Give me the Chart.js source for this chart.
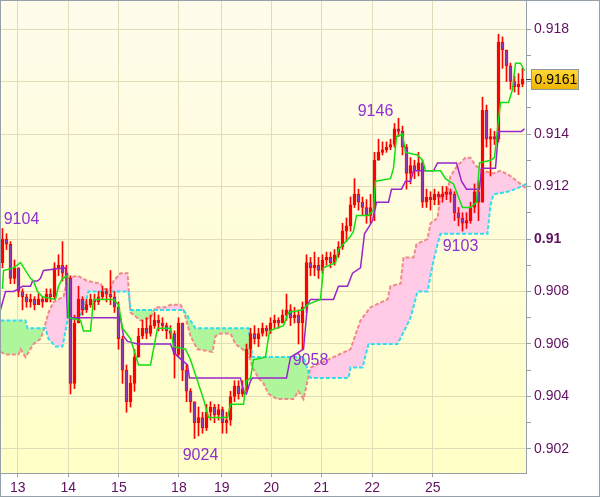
<!DOCTYPE html>
<html>
<head>
<meta charset="utf-8">
<script src="https://cdn.jsdelivr.net/npm/chart.js@4/dist/chart.umd.min.js"></script>
<style>
  body { margin: 0; background: #fff; }
  #wrap { width: 600px; height: 497px; }
</style>
</head>
<body>
<div id="wrap"><canvas id="myChart" width="600" height="497"></canvas></div>
<script>
// prices in pips (9104 -> 0.9104), one candle per bar index
const firstOpen = 9091
const closes = [
  9100, 9098, 9085, 9089, 9080, 9078, 9076, 9077, 9075, 9077,
  9076, 9079, 9078, 9089, 9090, 9087, 9085, 9045, 9068, 9077,
  9073, 9075, 9077, 9076, 9078, 9080, 9079, 9078, 9074, 9062,
  9050, 9038, 9045, 9055, 9063, 9066, 9064, 9067, 9069, 9068,
  9067, 9065, 9064, 9056, 9068, 9050, 9042, 9038, 9030, 9032,
  9028, 9034, 9036, 9033, 9035, 9030, 9031, 9040, 9044, 9041,
  9043, 9058, 9064, 9062, 9064, 9066, 9065, 9068, 9069, 9068,
  9071, 9073, 9070, 9071, 9068, 9074, 9091, 9089, 9090, 9088,
  9092, 9093, 9091, 9094, 9097, 9103, 9105, 9113, 9117, 9114,
  9112, 9109, 9112, 9130, 9133, 9134, 9135, 9136, 9142, 9141,
  9135, 9125, 9128, 9126, 9129, 9114, 9116, 9115, 9117, 9116,
  9117, 9118, 9117, 9110, 9108, 9106, 9107, 9112, 9118, 9114,
  9149, 9138, 9139, 9138, 9175, 9172, 9166, 9160, 9158, 9159,
  9161
]
const highs = [
  9104, 9102, 9099, 9092, 9089, 9081, 9079, 9079, 9078, 9079,
  9078, 9081, 9081, 9091, 9094, 9099, 9090, 9086, 9071, 9082,
  9078, 9077, 9079, 9079, 9080, 9082, 9081, 9088, 9080, 9076,
  9063, 9052, 9048, 9058, 9066, 9069, 9070, 9071, 9072, 9071,
  9070, 9068, 9067, 9065, 9070, 9068, 9052, 9043, 9038, 9036,
  9034, 9037, 9038, 9037, 9037, 9036, 9034, 9042, 9046, 9046,
  9046, 9060, 9066, 9067, 9066, 9068, 9067, 9070, 9071, 9070,
  9073, 9079, 9075, 9074, 9073, 9076, 9094, 9093, 9095, 9093,
  9094, 9095, 9095, 9096, 9099, 9106, 9108, 9116, 9123, 9119,
  9116, 9115, 9117, 9133, 9138, 9137, 9137, 9138, 9144, 9146,
  9143, 9136, 9131, 9130, 9133, 9130, 9119, 9118, 9119, 9118,
  9120, 9120, 9119, 9118, 9112, 9110, 9110, 9114, 9121, 9122,
  9154, 9151, 9142, 9141, 9178, 9177, 9172, 9167, 9162, 9163,
  9165
]
const lows = [
  9089, 9096, 9083, 9083, 9078, 9073, 9074, 9074, 9073, 9075,
  9074, 9076, 9076, 9077, 9086, 9084, 9082, 9041, 9043, 9068,
  9071, 9072, 9074, 9073, 9075, 9077, 9076, 9075, 9072, 9058,
  9045, 9034, 9036, 9042, 9055, 9062, 9062, 9063, 9066, 9065,
  9065, 9062, 9062, 9047, 9055, 9046, 9038, 9034, 9024, 9025,
  9026, 9027, 9031, 9030, 9031, 9026, 9026, 9029, 9038, 9039,
  9040, 9042, 9055, 9060, 9059, 9063, 9063, 9064, 9066, 9066,
  9068, 9069, 9067, 9068, 9060, 9058, 9072, 9086, 9086, 9085,
  9087, 9090, 9089, 9090, 9093, 9096, 9099, 9103, 9112, 9111,
  9109, 9106, 9106, 9107, 9130, 9132, 9133, 9134, 9135, 9139,
  9132, 9119, 9121, 9123, 9124, 9112, 9112, 9111, 9113, 9113,
  9114, 9115, 9114, 9107, 9105, 9103, 9104, 9106, 9110, 9107,
  9114, 9135, 9124, 9136, 9137, 9165, 9160, 9157, 9156, 9155,
  9158
]

// ichimoku lines: [bar index, pips]
const tenkan = [
  [0, 9081], [0.25, 9088], [2.75, 9089], [4.5, 9091], [7, 9085], [7.75, 9084], [8.75, 9080],
  [10, 9078], [13.25, 9077], [14, 9082], [15, 9085], [16.25, 9086], [16.5, 9070], [19.5, 9069],
  [20.25, 9065], [22, 9065], [22.75, 9077], [27.75, 9077], [29, 9075], [30, 9066], [32, 9062],
  [33, 9057], [34, 9052], [37, 9052], [38.75, 9066], [42, 9066], [42.75, 9059], [45.75, 9058],
  [47, 9054], [50.25, 9039], [51.5, 9032], [56.25, 9032], [57, 9037], [60.25, 9037], [61, 9046],
  [62, 9047], [62.75, 9054], [65.75, 9055], [66.75, 9065], [70.25, 9067], [71.5, 9072], [75, 9073],
  [76.25, 9075], [79.5, 9077], [80.25, 9089], [83.25, 9091], [84, 9096], [87, 9101], [87.75, 9103],
  [88.5, 9109], [91.5, 9109], [92.75, 9111], [93.25, 9122], [97, 9123], [97.75, 9127], [98.5, 9139],
  [100, 9140], [100.75, 9133], [103.75, 9132], [105, 9130], [105.75, 9126], [109.5, 9126],
  [110.75, 9123], [112.75, 9121], [114, 9116], [115, 9112], [117, 9112], [118.5, 9114],
  [119.25, 9129], [122, 9130], [123, 9131], [123.75, 9142], [124.5, 9152], [126.5, 9152],
  [127.5, 9157], [128.25, 9167], [129.5, 9167], [130.5, 9164]
]
const kijun = [
  [-0.5, 9073], [0.75, 9080], [2.75, 9080], [4, 9081], [5, 9082], [7, 9082], [7.5, 9084],
  [8.75, 9084], [9.5, 9085], [10.25, 9088], [15.75, 9089], [16.25, 9070], [29.5, 9070],
  [30.25, 9063], [31.25, 9061], [33.75, 9060], [42, 9060], [42.75, 9057], [44, 9055],
  [45.5, 9053], [46.25, 9052], [46.75, 9047], [59.5, 9047], [60.25, 9042], [61, 9041],
  [62, 9046], [62.5, 9047], [71, 9047], [72, 9055], [75.25, 9058], [76.25, 9075], [77, 9077],
  [82.75, 9077], [84, 9082], [86.25, 9082], [87.5, 9087], [89.5, 9089], [90.5, 9102],
  [91.75, 9105], [92.5, 9107], [93.5, 9114], [96.5, 9114], [97.25, 9119], [99.75, 9119],
  [100.75, 9122], [102, 9122], [102.75, 9126], [107.75, 9126], [108.75, 9129], [113.5, 9129],
  [114.75, 9122], [116, 9119], [119.25, 9119], [119.75, 9127], [123.25, 9127], [124, 9141],
  [129.75, 9141], [130.5, 9142]
]
const senkouA = [
  [-0.5, 9057], [0.75, 9056], [4, 9056], [4.5, 9058], [5.75, 9055], [7.75, 9060], [9.5, 9062],
  [10.25, 9065], [11.5, 9072], [12.75, 9076], [15.25, 9078], [16.25, 9085], [18.75, 9086],
  [21.25, 9084], [24.5, 9083], [25.25, 9081], [27, 9081], [27.75, 9084], [29.5, 9087],
  [31.25, 9087], [32, 9072], [34.5, 9069], [37, 9070], [38.25, 9074], [40.75, 9074],
  [42, 9075], [44.5, 9075], [45.25, 9073], [47, 9063], [48.75, 9058], [52.5, 9057],
  [53.25, 9063], [54.5, 9064], [57, 9064], [58.25, 9060], [60, 9058], [61.5, 9056],
  [62.5, 9051], [64, 9047], [65.25, 9045], [66.5, 9041], [68.75, 9039], [72.75, 9039],
  [74, 9042], [75.25, 9039], [77, 9051], [82.75, 9055], [87, 9058], [89.5, 9069], [92, 9074],
  [96.25, 9077], [97, 9082], [99.5, 9083], [100.25, 9093], [102.75, 9093], [103.5, 9098],
  [106.25, 9100], [107, 9106], [108.75, 9108], [109.5, 9117], [111.25, 9118], [112, 9124],
  [113.75, 9128], [115.75, 9131], [117, 9131], [118.25, 9128], [120, 9126], [122.75, 9125],
  [124.5, 9126], [127, 9124], [129.5, 9121], [131, 9119]
]
const senkouB = [
  [-0.5, 9069], [5.75, 9069], [6.25, 9066], [10.75, 9066], [11.5, 9062], [13.25, 9059],
  [15, 9059], [16.25, 9069], [19, 9070], [20.25, 9073], [21.5, 9080], [31.5, 9080], [32, 9073],
  [45.25, 9073], [48.25, 9066], [61.5, 9066], [62.5, 9055], [75.25, 9055], [77, 9047],
  [86.5, 9047], [87, 9051], [90, 9051], [91.5, 9060], [98.75, 9060], [100.75, 9066],
  [102, 9070], [103.75, 9080], [106.25, 9080], [107.5, 9090], [108.75, 9098], [109.5, 9102],
  [121.25, 9102], [122, 9113], [122.75, 9117], [126.25, 9118], [128.25, 9119], [131, 9121]
]

// day boundaries in bar index units
const dayLabels = ['13', '14', '15', '18', '19', '20', '21', '22', '25']
const dayStarts = [3.8, 16.45, 29.1, 44.1, 54.8, 67.2, 79.7, 92.45, 107.55]

const priceTicks = [0.902, 0.903, 0.904, 0.905, 0.906, 0.907, 0.908, 0.909, 0.910,
  0.911, 0.912, 0.913, 0.914, 0.915, 0.916, 0.917, 0.918]

// labelled extremes: [bar index, pips]
const markers = [[0, 9104], [99, 9146], [115, 9103], [75, 9058], [48, 9024]]

const pip = v => v / 10000
const opens = closes.map((c, i) => i === 0 ? firstOpen : closes[i - 1])
const lastPrice = pip(closes[closes.length - 1])
const toPoints = arr => arr.map(p => ({x: p[0], y: pip(p[1])}))

const axisColor = '#96a0a8'
const gridColor = '#e2dcb8'
const textColor = '#601060'
const fontFamily = 'Arial, "Liberation Sans", sans-serif'

const frame = {
  id: 'frame',
  beforeDraw (chart) {
    const {ctx, chartArea: a} = chart
    ctx.save()
    ctx.fillStyle = '#fff'
    ctx.fillRect(0, 0, chart.width, chart.height)
    const g = ctx.createLinearGradient(0, a.top, 0, a.bottom)
    g.addColorStop(0, '#fffcec')
    g.addColorStop(1, '#ffffc6')
    ctx.fillStyle = g
    ctx.fillRect(a.left, a.top, a.right - a.left, a.bottom - a.top)
    ctx.restore()
  },
  afterDraw (chart) {
    const {ctx, chartArea: a} = chart
    const xs = chart.scales.x
    const ys = chart.scales.y
    ctx.save()

    // extreme labels, text placed beside each high / low
    const offs = [[19, -5], [-23, -2], [-2, 20], [8, 16], [6, 22]]
    ctx.font = '16px ' + fontFamily
    ctx.fillStyle = '#9030d0'
    ctx.textAlign = 'center'
    ctx.textBaseline = 'alphabetic'
    markers.forEach((m, i) => {
      const px = xs.getPixelForValue(m[0])
      const py = ys.getPixelForValue(pip(m[1]))
      ctx.fillText(String(m[1]), px + offs[i][0], py + offs[i][1])
    })

    // last price box
    const py = Math.round(ys.getPixelForValue(lastPrice))
    ctx.strokeStyle = '#404040'
    ctx.lineWidth = 1
    ctx.beginPath()
    ctx.moveTo(a.right, py + 0.5)
    ctx.lineTo(a.right + 5, py + 0.5)
    ctx.stroke()
    const bx = a.right + 5.5
    const by = py - 9.5
    const g = ctx.createLinearGradient(0, by, 0, by + 20)
    g.addColorStop(0, '#ffd836')
    g.addColorStop(1, '#f0b400')
    ctx.fillStyle = g
    ctx.fillRect(bx, by, 47, 20)
    ctx.strokeStyle = '#8c98a2'
    ctx.strokeRect(bx, by, 47, 20)
    ctx.fillStyle = '#000'
    ctx.font = '14px ' + fontFamily
    ctx.textAlign = 'left'
    ctx.textBaseline = 'middle'
    ctx.fillText(lastPrice.toFixed(4), bx + 3, py + 1)

    // outer frame
    ctx.strokeStyle = axisColor
    ctx.strokeRect(0.5, 0.5, chart.width - 1, chart.height - 1)
    ctx.restore()
  }
}

const showChart = function () {
  const ctx = document.getElementById('myChart').getContext('2d')
  new Chart(ctx, {
    type: 'bar',
    data: {
      datasets: [
        {
          type: 'line',
          data: toPoints(senkouA),
          borderColor: '#f08a8a',
          borderWidth: 2,
          borderDash: [4, 2],
          pointRadius: 0,
          fill: {target: 1, above: '#ffcbe6', below: '#aef59c'},
          order: 10
        },
        {
          type: 'line',
          data: toPoints(senkouB),
          borderColor: '#30dcee',
          borderWidth: 2,
          borderDash: [4, 2],
          pointRadius: 0,
          fill: false,
          order: 9
        },
        {
          data: closes.map((c, i) => ({x: i, y: [pip(lows[i]), pip(highs[i])]})),
          backgroundColor: '#ff0000',
          barThickness: 1,
          grouped: false,
          order: 6
        },
        {
          data: closes.map((c, i) => ({x: i, y: [pip(opens[i]), pip(c)]})),
          backgroundColor: closes.map((c, i) => c < opens[i] ? '#8a3ab9' : 'rgba(0,0,0,0)'),
          borderColor: '#ff0000',
          borderWidth: 1,
          borderSkipped: false,
          barThickness: 3,
          grouped: false,
          order: 5
        },
        {
          type: 'line',
          data: toPoints(kijun),
          borderColor: '#9a24cc',
          borderWidth: 1.5,
          pointRadius: 0,
          fill: false,
          order: 2
        },
        {
          type: 'line',
          data: toPoints(tenkan),
          borderColor: '#10e010',
          borderWidth: 1.5,
          pointRadius: 0,
          fill: false,
          order: 1
        }
      ]
    },
    options: {
      responsive: false,
      animation: false,
      events: [],
      layout: {padding: {left: 1, top: 1, right: 0, bottom: 0}},
      plugins: {legend: {display: false}, tooltip: {enabled: false}},
      scales: {
        x: {
          type: 'linear',
          min: -0.375,
          max: 130.875,
          offset: false,
          afterFit: (scale) => {
            scale.height = 24
            scale.paddingLeft = 0
            scale.paddingRight = 0
          },
          afterBuildTicks: (scale) => { scale.ticks = dayStarts.map(v => ({value: v})) },
          grid: {color: gridColor, tickColor: axisColor, tickLength: 4, offset: false},
          border: {color: axisColor},
          ticks: {
            autoSkip: false,
            maxRotation: 0,
            padding: 3,
            color: textColor,
            font: {family: fontFamily, size: 14},
            callback: (v) => dayLabels[dayStarts.indexOf(v)]
          }
        },
        y: {
          position: 'right',
          min: 0.9010857,
          max: 0.9190667,
          afterFit: (scale) => {
            scale.width = 74
            scale.paddingTop = 0
            scale.paddingBottom = 0
          },
          afterBuildTicks: (scale) => { scale.ticks = priceTicks.map(v => ({value: v})) },
          grid: {
            color: (c) => c.index % 2 ? 'rgba(0,0,0,0)' : gridColor,
            tickColor: axisColor,
            tickLength: 5
          },
          border: {color: axisColor},
          ticks: {
            padding: 3,
            color: textColor,
            font: (c) => ({
              family: fontFamily,
              size: 14,
              weight: c.tick && Math.abs(c.tick.value - 0.91) < 1e-7 ? 'bold' : 'normal'
            }),
            callback: (v, i) => {
              if (i % 2) return ''
              if (Math.abs(v - lastPrice) < 0.0004) return ''
              return String(parseFloat(v.toFixed(3)))
            }
          }
        }
      }
    },
    plugins: [frame]
  })
}

showChart()
</script>
</body>
</html>
